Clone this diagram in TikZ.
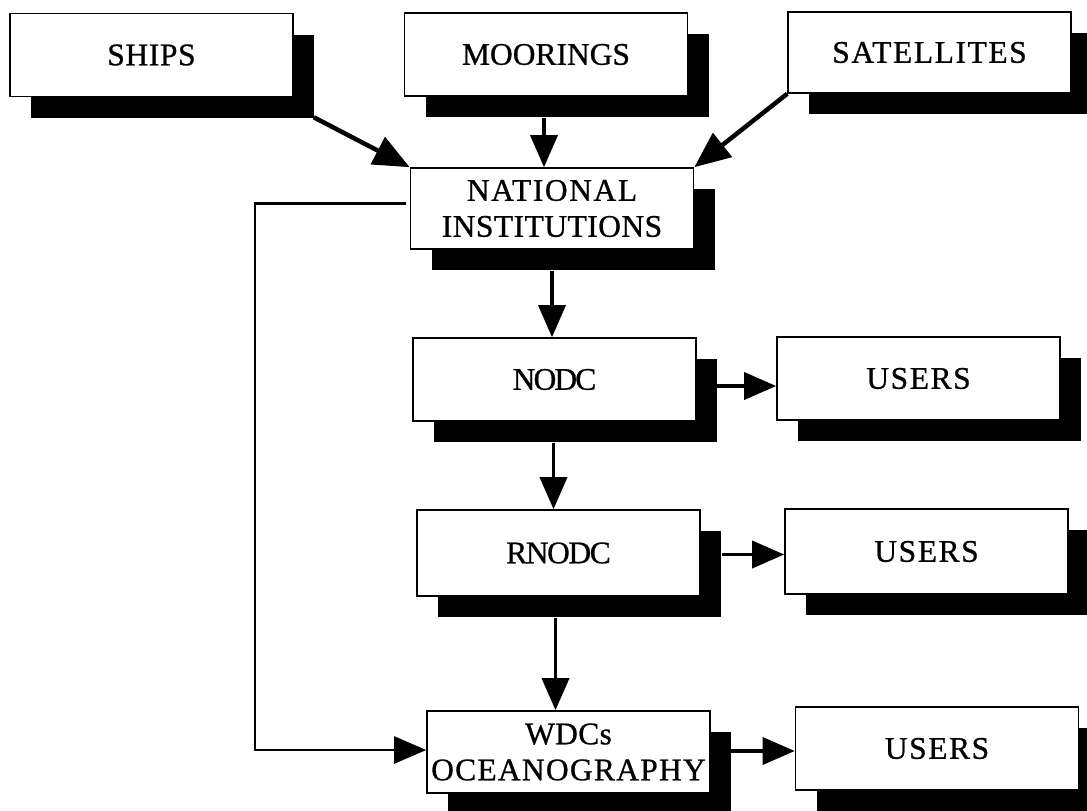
\documentclass[tikz,border=0pt]{standalone}
\usepackage{fontspec}
\setmainfont[FakeBold=0.8]{Liberation Serif}
\usetikzlibrary{arrows.meta,calc,shadows}

\tikzset{
  box/.style={draw=black, line width=1.6pt, fill=white,
    minimum width=283pt, minimum height=83pt, inner sep=0pt,
    align=center, font=\fontsize{31.5}{36}\selectfont,
    drop shadow={shadow xshift=21pt, shadow yshift=-21pt, fill=black, opacity=1}},
  flow/.style={line width=3.6pt, -{Triangle[length=32pt,width=27pt]}},
  feed/.style={line width=4.5pt, -{Triangle[length=36pt,width=30pt]}},
  link/.style={line width=2.6pt, -{Triangle[length=32pt,width=27pt]}},
}
\newcommand{\spaced}[2]{{\addfontfeatures{LetterSpace=#1}#2}}

\begin{document}
\begin{tikzpicture}[x=1pt, y=-1pt]
  \path[use as bounding box, clip] (0,0) rectangle (1087,811);
  \fill[white] (0,0) rectangle (1087,811);

  % data sources
  \node[box] (ships) at (151.5,55) {\spaced{2}{SHIPS}};
  \node[box] (moor)  at (546,54.5) {MOORINGS};
  \node[box, minimum height=81pt] (sat) at (929.5,52.5) {\spaced{5}{SATELLITES}};

  % national collection
  \node[box, minimum height=81pt] (ni) at (552,208.5)
    {\spaced{5}{NATIONAL}\\\spaced{1.5}{INSTITUTIONS}};

  % data centre chain
  \node[box] (nodc)  at (554.5,379.5) {\spaced{-6}{NODC}};
  \node[box, minimum height=86pt] (rnodc) at (558.5,553) {\spaced{-4.5}{RNODC}};
  \node[box, minimum height=82pt] (wdc)   at (568.5,752)
    {\spaced{1}{WDCs}\\\spaced{4}{OCEANOGRAPHY}};

  % users
  \node[box] (users1) at (918.5,378.5) {\spaced{5}{USERS}};
  \node[box, minimum height=85pt] (users2) at (926.5,551.5) {\spaced{5}{USERS}};
  \node[box] (users3) at (937,748.5) {\spaced{5}{USERS}};

  % inputs to the national institutions
  \draw[feed] ($(ships.south east)+(20,20)$) -- (ni.north west);
  \draw[flow] ($(moor.south)+(-2,21)$) -- ($(moor.south |- ni.north)+(-2,0)$);
  \draw[feed] (sat.south west) -- (ni.north east);

  % flow down the chain
  \draw[flow] ($(ni.south)+(0,21)$) -- (ni.south |- nodc.north);
  \draw[flow] ($(nodc.south)+(-1,21)$) -- ($(nodc.south |- rnodc.north)+(-1,0)$);
  \draw[flow] ($(rnodc.south)+(-3,21)$) -- ($(rnodc.south |- wdc.north)+(-3,0)$);

  % distribution to users
  \draw[flow] ($(nodc.east)+(20,6.5)$) -- ($(users1.west)+(0,7.5)$);
  \draw[flow] ($(rnodc.east)+(21,1.5)$) -- ($(users2.west)+(0,3)$);
  \draw[flow] ($(wdc.east)+(19,-1)$) -- ($(users3.west)+(0,2.5)$);

  % direct route from the national institutions to the WDCs
  \coordinate (bend) at (255,203.5);
  \draw[link] ($(ni.west)+(-4,-5)$) -- (bend) |- ($(wdc.west)+(0,-2)$);
\end{tikzpicture}
\end{document}
